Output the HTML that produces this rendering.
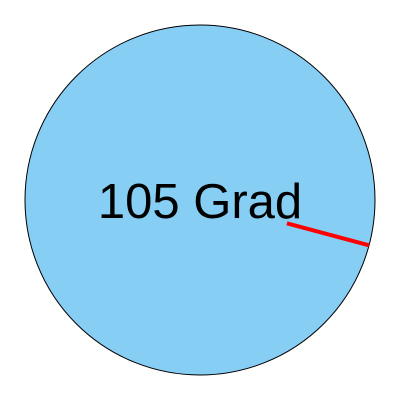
<!DOCTYPE html>
<html>
<head>
<meta charset="utf-8">
<style>
  html, body { margin: 0; padding: 0; background: #ffffff; }
  svg { display: block; }
</style>
</head>
<body>
<svg id="chart" width="400" height="400" viewBox="0 0 400 400" xmlns="http://www.w3.org/2000/svg">
  <circle cx="200" cy="200" r="175" fill="#87CEF4" stroke="#000" stroke-width="1"/>
</svg>
<script>
const angleValues = [105];
const unitLabels = ["Grad"];

const svg = document.getElementById('chart');
const NS = 'http://www.w3.org/2000/svg';
const cx = 200, cy = 200, R = 175, rInner = 90;

function angleToXY(deg, r) {
  const a = (deg - 90) * Math.PI / 180;
  return [cx + r * Math.cos(a), cy + r * Math.sin(a)];
}

const angleDeg = angleValues[0];
const p1 = angleToXY(angleDeg, rInner);
const p2 = angleToXY(angleDeg, R);

const txt = document.createElementNS(NS, 'text');


txt.setAttribute('x', cx);
txt.setAttribute('y', 218);
txt.setAttribute('text-anchor', 'middle');
txt.setAttribute('font-family', '"Liberation Sans", sans-serif');
txt.setAttribute('font-size', '49');
txt.setAttribute('fill', '#000');
txt.textContent = angleDeg + ' ' + unitLabels[0];
svg.appendChild(txt);

const line = document.createElementNS(NS, 'line');


line.setAttribute('x1', p1[0]);
line.setAttribute('y1', p1[1]);
line.setAttribute('x2', p2[0]);
line.setAttribute('y2', p2[1]);
line.setAttribute('stroke', '#ff0000');
line.setAttribute('stroke-width', '4');
svg.appendChild(line);
</script>
</body>
</html>
